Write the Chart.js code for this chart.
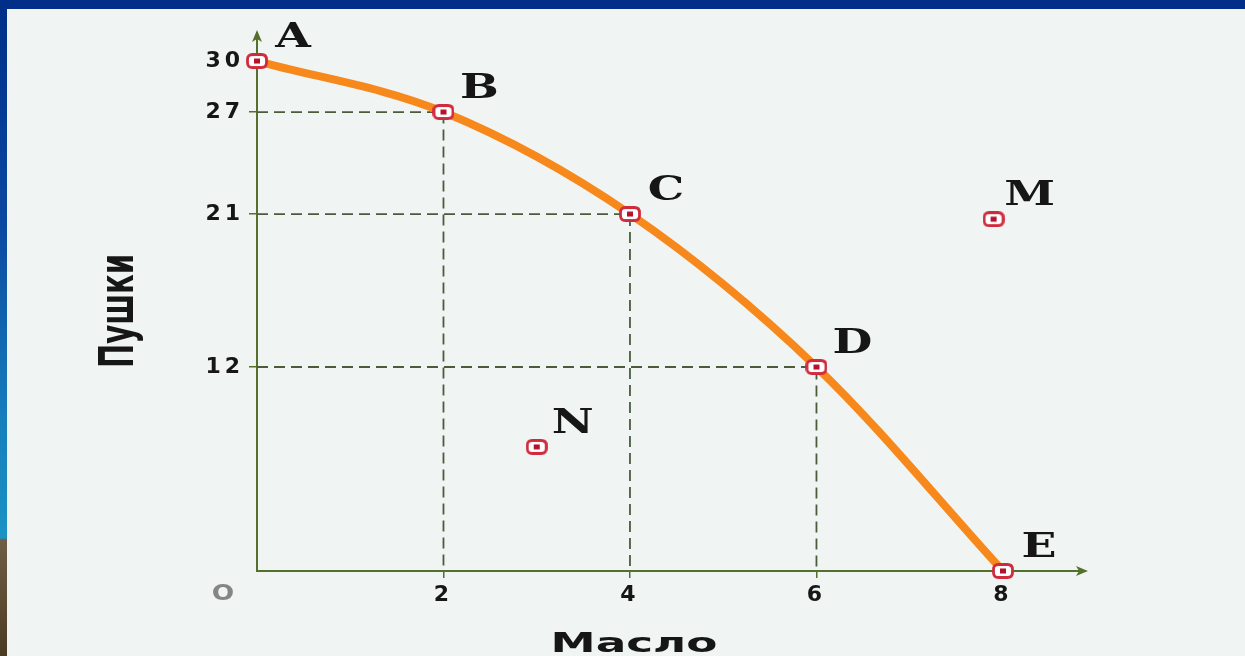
<!DOCTYPE html>
<html>
<head>
<meta charset="utf-8">
<script src="https://cdn.jsdelivr.net/npm/chart.js@4.4.1/dist/chart.umd.min.js"></script>
<style>
  html, body { margin: 0; padding: 0; width: 1245px; height: 656px; overflow: hidden; background: #f0f5f3; }
  #frameTop { position: absolute; left: 0; top: 0; width: 1245px; height: 9px; background: #002e88; z-index: 2; }
  #frameLeft { position: absolute; left: 0; top: 0; width: 7px; height: 656px; z-index: 2;
    background: linear-gradient(to bottom, #002e88 0px, #0a47a0 220px, #157fbc 420px, #1b92c4 538px, #6e5e45 540px, #5e4c33 600px, #4a3a22 656px); }
  #wrap { position: absolute; left: 0; top: 0; width: 1245px; height: 656px; }
</style>
</head>
<body>
<div id="wrap"><canvas id="c" width="1245" height="656"></canvas></div>
<div id="frameTop"></div>
<div id="frameLeft"></div>
<script>
// ---- data ----
const pointNames   = ['A', 'B', 'C', 'D', 'E'];
const butterValues = [0, 2, 4, 6, 8];        // Масло
const gunValues    = [30, 27, 21, 12, 0];    // Пушки
const offNames     = ['M', 'N'];
const offButter    = [7.9, 3];
const offGuns      = [20.7, 7.3];
const xTickValues  = [2, 4, 6, 8];
const yTickValues  = [12, 21, 27, 30];
const guideIndices = [1, 2, 3];              // B, C, D get dashed guides
const xTitle = 'Масло';
const yTitle = 'Пушки';
const originLabel = 'O';

// ---- styles ----
const OLIVE  = '#55702c';
const GUIDE  = '#4b5c3d';
const ORANGE = '#f7891c';
const TEXT   = '#161616';

function makeMarker() {
  const c = document.createElement('canvas');
  c.width = 22; c.height = 16;
  const g = c.getContext('2d');
  const x = 1.5, y = 1.5, w = 19, h = 13, r = 5;
  g.beginPath();
  g.moveTo(x + r, y);
  g.lineTo(x + w - r, y); g.quadraticCurveTo(x + w, y, x + w, y + r);
  g.lineTo(x + w, y + h - r); g.quadraticCurveTo(x + w, y + h, x + w - r, y + h);
  g.lineTo(x + r, y + h); g.quadraticCurveTo(x, y + h, x, y + h - r);
  g.lineTo(x, y + r); g.quadraticCurveTo(x, y, x + r, y);
  g.closePath();
  g.fillStyle = '#ffffff'; g.fill();
  g.strokeStyle = '#d02b3d'; g.lineWidth = 2.8; g.stroke();
  g.fillStyle = '#b5112a'; g.fillRect(8, 5.5, 6, 5);
  return c;
}
const markerImg = makeMarker();

const curvePts  = butterValues.map((x, i) => ({ x: x, y: gunValues[i] }));
const markerPts = curvePts.concat(offButter.map((x, i) => ({ x: x, y: offGuns[i] })));
const markerNames = pointNames.concat(offNames);

const guideSets = guideIndices.map(i => ({
  type: 'line',
  data: [{ x: 0, y: gunValues[i] }, { x: butterValues[i], y: gunValues[i] }, { x: butterValues[i], y: 0 }],
  borderColor: GUIDE, borderWidth: 1.8, borderDash: [11, 6],
  pointRadius: 0, tension: 0, fill: false, order: 5, clip: false
}));

const curveSet = {
  type: 'line', data: curvePts,
  borderColor: ORANGE, borderWidth: 8, cubicInterpolationMode: 'monotone',
  pointRadius: 0, fill: false, order: 4, clip: false
};

const markerSet = {
  type: 'scatter', data: markerPts,
  pointStyle: markerImg, pointRadius: 8, pointBorderWidth: 0,
  order: 1, clip: false
};

function stretchedText(ctx, text, x, y, font, color, sx, align) {
  ctx.save();
  ctx.translate(x, y);
  ctx.scale(sx, 1);
  ctx.font = font;
  ctx.fillStyle = color;
  ctx.textAlign = align || 'center';
  ctx.textBaseline = 'alphabetic';
  ctx.fillText(text, 0, 0);
  ctx.restore();
}

const decor = {
  id: 'decor',
  beforeDraw(chart) { chart.ctx.letterSpacing = '4px'; },
  beforeDatasetsDraw(chart) { chart.ctx.letterSpacing = '0px'; },
  afterDraw(chart) {
    const ctx = chart.ctx, a = chart.chartArea;
    ctx.save();
    ctx.letterSpacing = '0px';
    ctx.fillStyle = OLIVE;
    // arrow heads
    ctx.beginPath();
    ctx.moveTo(a.left, a.top - 3); ctx.lineTo(a.left - 5, a.top + 9);
    ctx.lineTo(a.left, a.top + 6); ctx.lineTo(a.left + 5, a.top + 9); ctx.closePath(); ctx.fill();
    ctx.beginPath();
    ctx.moveTo(a.right + 3, a.bottom); ctx.lineTo(a.right - 9, a.bottom - 5);
    ctx.lineTo(a.right - 6, a.bottom); ctx.lineTo(a.right - 9, a.bottom + 5); ctx.closePath(); ctx.fill();

    // point letters
    const meta = chart.getDatasetMeta(chart.data.datasets.length - 1);
    meta.data.forEach((el, i) => {
      stretchedText(ctx, markerNames[i], el.x + 36, el.y - 14, 'bold 34px "DejaVu Serif"', TEXT, 1.35);
    });

    // origin
    stretchedText(ctx, originLabel, a.left - 34, a.bottom + 29, 'bold 22px "DejaVu Sans"', '#858585', 1.2);

    // x title
    ctx.font = 'bold 27px "DejaVu Sans"';
    const wX = ctx.measureText(xTitle).width;
    stretchedText(ctx, xTitle, a.left + 377, a.bottom + 81, 'bold 27px "DejaVu Sans"', TEXT, 167 / wX);

    // y title (rotated, glyphs stretched across)
    ctx.save();
    ctx.translate(a.left - 124, a.top + 278);
    ctx.rotate(-Math.PI / 2);
    ctx.scale(1, 1.65);
    ctx.font = 'bold 29px "DejaVu Sans"';
    ctx.fillStyle = TEXT;
    ctx.textAlign = 'center';
    ctx.textBaseline = 'alphabetic';
    ctx.fillText(yTitle, 0, 0);
    ctx.restore();
    ctx.restore();
  }
};

new Chart(document.getElementById('c'), {
  type: 'line',
  data: { datasets: [...guideSets, curveSet, markerSet] },
  options: {
    responsive: false,
    animation: false,
    devicePixelRatio: 1,
    events: [],
    layout: { padding: { top: 33, right: 160, left: 0, bottom: 0 } },
    plugins: { legend: { display: false }, tooltip: { enabled: false } },
    scales: {
      x: {
        type: 'linear', min: 0, max: 8.88,
        afterBuildTicks: s => { s.ticks = xTickValues.map(v => ({ value: v })); },
        afterFit: s => { s.height = 85; },
        border: { display: true, color: OLIVE, width: 2 },
        grid: { display: true, drawOnChartArea: false, drawTicks: true, tickLength: 7, color: OLIVE, lineWidth: 1.5 },
        ticks: { autoSkip: false, maxRotation: 0, padding: 4, color: TEXT,
                 font: { family: '"DejaVu Sans"', size: 22, weight: 'bold' } }
      },
      y: {
        type: 'linear', min: 0, max: 31.65,
        afterBuildTicks: s => { s.ticks = yTickValues.map(v => ({ value: v })); },
        afterFit: s => { s.width = 257; },
        border: { display: true, color: OLIVE, width: 2 },
        grid: { display: true, drawOnChartArea: false, drawTicks: true, tickLength: 8, color: OLIVE, lineWidth: 1.5 },
        ticks: { autoSkip: false, padding: 5, color: TEXT,
                 font: { family: '"DejaVu Sans"', size: 22, weight: 'bold' } }
      }
    }
  },
  plugins: [decor]
});
</script>
</body>
</html>
